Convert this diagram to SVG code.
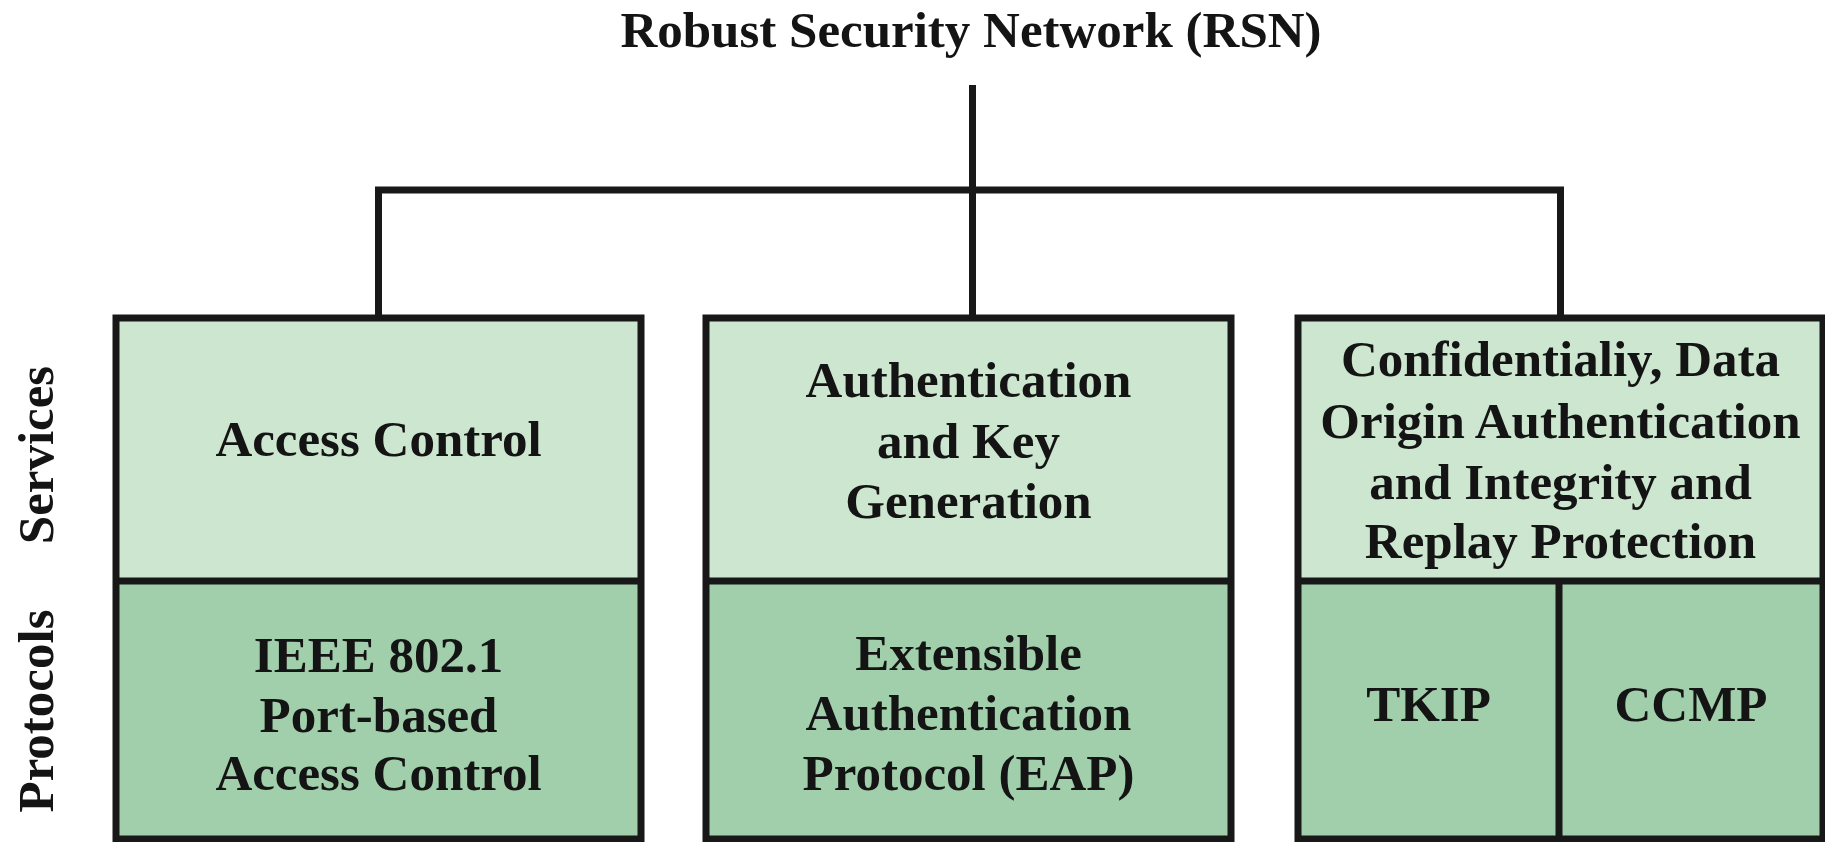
<svg xmlns="http://www.w3.org/2000/svg" width="1825" height="842" viewBox="0 0 1825 842">
<style>
text { font-family: "Liberation Serif", "Times New Roman", serif; font-weight: bold; font-size: 51px; fill: #141414; text-anchor: middle; }
.svc { fill: #cce6cf; }
.pro { fill: #a1cfab; }
.edge { fill: none; stroke: #181818; stroke-width: 7; }
.conn { fill: none; stroke: #181818; stroke-width: 7; stroke-linejoin: miter; }
</style>
<rect width="1825" height="842" fill="#ffffff"/>
<g id="title">
<text x="971" y="47">Robust Security Network (RSN)</text>
</g>
<g id="connectors">
<path class="conn" d="M378.5,318 V190 H1560.5 V318"/>
<path class="conn" d="M972.5,85 V318"/>
</g>
<g id="axis-labels">
<text transform="translate(53,455) rotate(-90)" x="0" y="0">Services</text>
<text transform="translate(53,711) rotate(-90)" x="0" y="0">Protocols</text>
</g>
<g id="access-control">
<rect class="svc" x="116" y="318" width="525" height="263"/>
<rect class="pro" x="116" y="581" width="525" height="258"/>
<rect class="edge" x="116" y="318" width="525" height="521"/>
<line class="edge" x1="116" y1="581" x2="641" y2="581"/>
<text x="378.5" y="456">Access Control</text>
<text x="378.5" y="672">IEEE 802.1</text>
<text x="378.5" y="732">Port-based</text>
<text x="378.5" y="790">Access Control</text>
</g>
<g id="authentication">
<rect class="svc" x="706" y="318" width="525" height="263"/>
<rect class="pro" x="706" y="581" width="525" height="258"/>
<rect class="edge" x="706" y="318" width="525" height="521"/>
<line class="edge" x1="706" y1="581" x2="1231" y2="581"/>
<text x="968.5" y="397">Authentication</text>
<text x="968.5" y="458">and Key</text>
<text x="968.5" y="518">Generation</text>
<text x="968.5" y="670">Extensible</text>
<text x="968.5" y="730">Authentication</text>
<text x="968.5" y="790">Protocol (EAP)</text>
</g>
<g id="confidentiality">
<rect class="svc" x="1298" y="318" width="525" height="263"/>
<rect class="pro" x="1298" y="581" width="525" height="258"/>
<rect class="edge" x="1298" y="318" width="525" height="521"/>
<line class="edge" x1="1298" y1="581" x2="1823" y2="581"/>
<line class="edge" x1="1559" y1="581" x2="1559" y2="839"/>
<text x="1560.5" y="376">Confidentialiy, Data</text>
<text x="1560.5" y="438">Origin Authentication</text>
<text x="1560.5" y="499">and Integrity and</text>
<text x="1560.5" y="558">Replay Protection</text>
<text x="1428.5" y="721">TKIP</text>
<text x="1691" y="721">CCMP</text>
</g>
</svg>
